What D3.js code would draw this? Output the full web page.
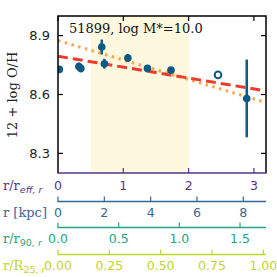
<!DOCTYPE html>
<html>
<head>
<meta charset="utf-8">
<script src="https://cdn.jsdelivr.net/npm/d3@7"></script>
<style>
  body { margin: 0; background: #fff; }
  svg text { font-family: "DejaVu Serif", serif; }
  svg text.tick { font-family: "DejaVu Sans", sans-serif; }
</style>
</head>
<body>
<div id="chart"></div>
<script>
'use strict'

// radial metallicity profile
const radius = [0.02, 0.32, 0.35, 0.67, 0.71, 1.07, 1.37, 1.73, 2.45, 2.89]
const logOH = [8.728, 8.743, 8.733, 8.842, 8.757, 8.786, 8.733, 8.724, 8.700, 8.580]
const errOH = [0.015, 0.02, 0.02, 0.038, 0.025, 0.02, 0.015, 0.015, 0, 0.198]
const isOpen = [false, false, false, false, false, false, false, false, true, false]

// fitted gradients (end points at x = 0 and x = right edge)
const fitX = [0, 3.185]
const redFit = [8.795, 8.618]
const orangeFit = [8.875, 8.559]

// fit range shading, in r/r_eff
const shadeRange = [0.5, 2.0]

const yTicks = [8.3, 8.6, 8.9]
const reffTicks = [0, 1, 2, 3]
const kpcTicks = [0, 2, 4, 6, 8]
const r90Ticks = [0.0, 0.5, 1.0, 1.5]
const r25Ticks = [0.00, 0.25, 0.50, 0.75, 1.00]

const title = '51899, log M*=10.0'

////////////////////////////////////
//////////// svg setup /////////////
////////////////////////////////////

const svgWidth = 277, svgHeight = 277
const margin = {left: 58, right: 11, top: 16, bottom: 104}
const pLeft = margin.left, pRight = svgWidth - margin.right
const pTop = margin.top, pBottom = svgHeight - margin.bottom

const svg = d3.select('#chart').append('svg')
    .attr('width', svgWidth)
    .attr('height', svgHeight)

const cPurple = '#553588', cBlue = '#366895', cTeal = '#25a584', cLime = '#bfd62c'
const cPoint = '#0e5a80'

////////////////////////////////////
//////////////scales////////////////
////////////////////////////////////

const x = d3.scaleLinear().domain([0, 3.185]).range([pLeft, pRight])
const y = d3.scaleLinear().domain([8.2, 9.0]).range([pBottom, pTop])
const xKpc = d3.scaleLinear().domain([0, 8.98]).range([pLeft, pRight])
const x90 = d3.scaleLinear().domain([0, 1.714]).range([pLeft, pRight])
const x25 = d3.scaleLinear().domain([0, 1.013]).range([pLeft, pRight])

svg.append('defs').append('clipPath').attr('id', 'plot-clip')
    .append('rect')
    .attr('x', pLeft).attr('y', pTop)
    .attr('width', pRight - pLeft).attr('height', pBottom - pTop)

const plot = svg.append('g').attr('clip-path', 'url(#plot-clip)')

// shaded fit range
plot.append('rect')
    .attr('x', x(shadeRange[0]))
    .attr('y', pTop)
    .attr('width', x(shadeRange[1]) - x(shadeRange[0]))
    .attr('height', pBottom - pTop)
    .attr('fill', '#fef8df')

// gradients
const line = d3.line().x(d => x(d[0])).y(d => y(d[1]))
plot.append('path')
    .attr('d', line(d3.zip(fitX, orangeFit)))
    .attr('stroke', '#fba64a')
    .attr('stroke-width', 3)
    .attr('stroke-dasharray', '2.5,4.5')
    .attr('fill', 'none')
plot.append('path')
    .attr('d', line(d3.zip(fitX, redFit)))
    .attr('stroke', '#ef3b2c')
    .attr('stroke-width', 3)
    .attr('stroke-dasharray', '10,5')
    .attr('fill', 'none')

// error bars & points
const pts = radius.map((r, i) => ({r: r, oh: logOH[i], e: errOH[i], open: isOpen[i]}))
plot.selectAll('.err').data(pts.filter(d => d.e > 0)).join('line')
    .attr('x1', d => x(d.r)).attr('x2', d => x(d.r))
    .attr('y1', d => y(d.oh - d.e)).attr('y2', d => y(d.oh + d.e))
    .attr('stroke', cPoint)
    .attr('stroke-width', 2.5)
plot.selectAll('.pt').data(pts).join('circle')
    .attr('cx', d => x(d.r))
    .attr('cy', d => y(d.oh))
    .attr('r', d => d.open ? 3.3 : 3.8)
    .attr('fill', d => d.open ? 'none' : cPoint)
    .attr('stroke', cPoint)
    .attr('stroke-width', d => d.open ? 2 : 0)

////////////////////////////////////
//////////////// axes //////////////
////////////////////////////////////

// frame
svg.append('path')
    .attr('d', `M${pLeft},${pBottom}V${pTop}H${pRight}V${pBottom}`)
    .attr('stroke', '#000').attr('stroke-width', 1.5).attr('fill', 'none')
svg.append('line')
    .attr('x1', pLeft - 0.75).attr('x2', pRight + 0.75)
    .attr('y1', pBottom).attr('y2', pBottom)
    .attr('stroke', cPurple).attr('stroke-width', 1.5)

// inward ticks on frame
const tickLen = 5
yTicks.forEach(t => {
    svg.append('line').attr('x1', pLeft).attr('x2', pLeft + tickLen)
        .attr('y1', y(t)).attr('y2', y(t)).attr('stroke', '#000').attr('stroke-width', 1.2)
    svg.append('line').attr('x1', pRight).attr('x2', pRight - tickLen)
        .attr('y1', y(t)).attr('y2', y(t)).attr('stroke', '#000').attr('stroke-width', 1.2)
    svg.append('text').attr('class', 'tick')
        .attr('x', pLeft - 8).attr('y', y(t) + 4.5)
        .attr('text-anchor', 'end').attr('font-size', 13).attr('fill', '#222')
        .text(d3.format('.1f')(t))
})
reffTicks.forEach(t => {
    svg.append('line').attr('x1', x(t)).attr('x2', x(t))
        .attr('y1', pTop).attr('y2', pTop + tickLen).attr('stroke', '#000').attr('stroke-width', 1.2)
    svg.append('line').attr('x1', x(t)).attr('x2', x(t))
        .attr('y1', pBottom).attr('y2', pBottom - tickLen).attr('stroke', cPurple).attr('stroke-width', 1.2)
    svg.append('text').attr('class', 'tick')
        .attr('x', x(t)).attr('y', 189.5)
        .attr('text-anchor', 'middle').attr('font-size', 12.5).attr('fill', cPurple)
        .text(t)
})

// secondary radius axes below
function extraAxis(scale, ticks, fmt, yLine, yText, color) {
    svg.append('line').attr('x1', pLeft - 0.6).attr('x2', pRight)
        .attr('y1', yLine).attr('y2', yLine)
        .attr('stroke', color).attr('stroke-width', 1.5)
    ticks.forEach(t => {
        svg.append('line').attr('x1', scale(t)).attr('x2', scale(t))
            .attr('y1', yLine).attr('y2', yLine - 5)
            .attr('stroke', color).attr('stroke-width', 1.2)
        svg.append('text').attr('class', 'tick')
            .attr('x', scale(t)).attr('y', yText)
            .attr('text-anchor', 'middle').attr('font-size', 12.5).attr('fill', color)
            .text(fmt(t))
    })
}
extraAxis(xKpc, kpcTicks, d3.format('d'), 201.5, 216.5, cBlue)
extraAxis(x90, r90Ticks, d3.format('.1f'), 227.5, 243, cTeal)
extraAxis(x25, r25Ticks, d3.format('.2f'), 254.5, 270, cLime)

// axis names
function axisName(yText, color, main, sub, subItalic) {
    const t = svg.append('text').attr('x', 3).attr('y', yText)
        .attr('font-size', 13).attr('fill', color)
    t.append('tspan').text(main)
    if (sub) {
        t.append('tspan').attr('dy', 3).attr('font-size', 9.5)
            .attr('font-family', 'DejaVu Sans').text(sub)
    }
    t.append('tspan').attr('dy', sub ? 0 : 3).attr('font-size', 9.5)
        .attr('font-family', 'DejaVu Sans').attr('font-style', 'italic').text(subItalic)
}
axisName(189.5, cPurple, 'r/r', '', 'eff, r')
svg.append('text').attr('x', 3).attr('y', 216.5)
    .attr('font-size', 13).attr('fill', cBlue).text('r [kpc]')
axisName(243, cTeal, 'r/r', '90', ', r')
axisName(270, cLime, 'r/R', '25', ', r')

// y label and title
svg.append('text')
    .attr('transform', `translate(17,95) rotate(-90)`)
    .attr('text-anchor', 'middle').attr('font-size', 13).attr('fill', '#222')
    .text('12 + log O/H')
svg.append('text').attr('x', 69).attr('y', 32.5)
    .attr('font-size', 13).attr('fill', '#111')
    .text(title)
</script>
</body>
</html>
